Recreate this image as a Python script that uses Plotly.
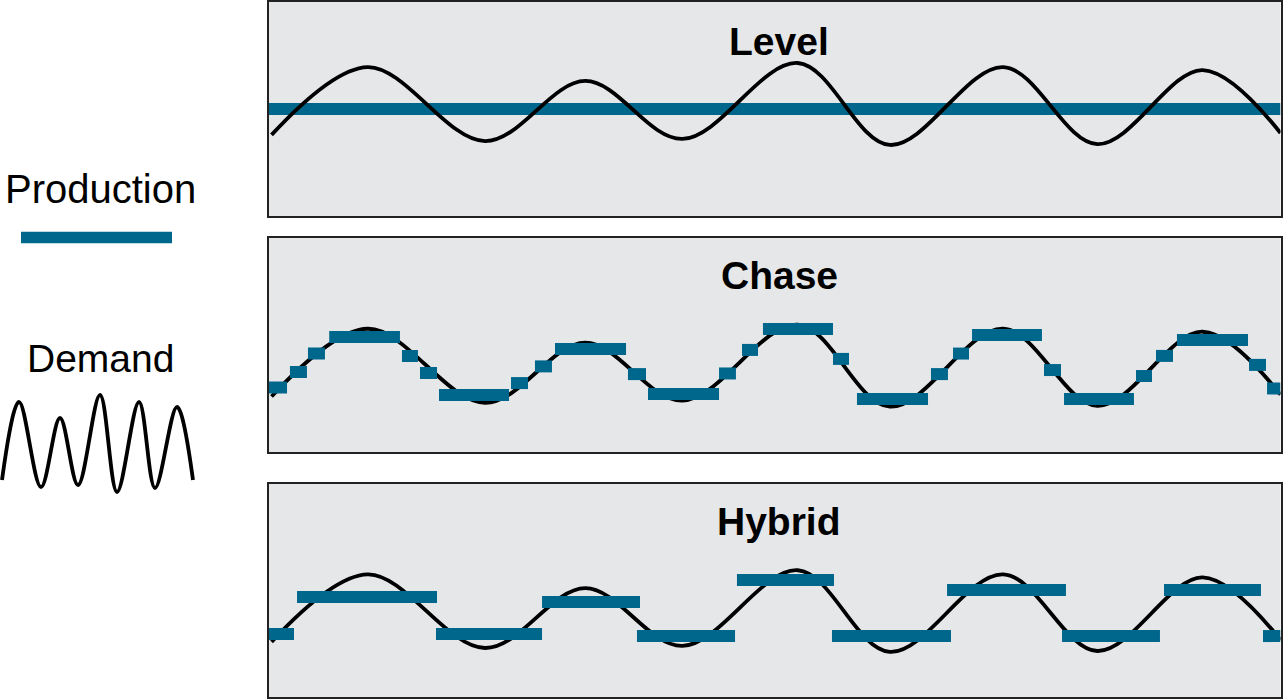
import plotly.graph_objects as go

# Demand over the planning horizon (period 0-100, demand in units):
# turning points of the seasonal demand pattern
period = [0.3, 9.8, 21.4, 31.3, 40.9, 52.3, 61.4, 72.6, 81.9, 92.3, 100.0]
demand = [37.9, 69.6, 35.0, 63.1, 36.0, 71.5, 33.2, 69.6, 33.6, 68.2, 38.8]

# Level strategy: constant output
level_output = 50.0

# Chase strategy: output changed period by period
chase_start = [0.0, 2.12, 3.90, 6.00, 13.19, 14.97, 16.85, 23.96, 26.33, 28.31,
               35.52, 37.50, 44.52, 46.79, 48.86, 55.78, 58.15, 65.46, 67.64,
               69.52, 76.63, 78.61, 85.72, 87.70, 89.77, 96.89, 98.67]
chase_end = [1.83, 3.80, 5.58, 12.99, 14.77, 16.65, 23.77, 25.64, 28.01, 35.33,
             37.30, 44.52, 46.19, 48.37, 55.78, 57.36, 65.17, 67.14, 69.22,
             76.43, 78.31, 85.52, 87.30, 89.38, 96.79, 98.57, 100.0]
chase_level = [42.1, 49.4, 58.0, 65.7, 56.9, 48.9, 38.6, 44.2, 52.0, 60.1,
               48.4, 39.1, 48.7, 59.7, 69.5, 55.5, 36.8, 48.4, 58.0, 66.7,
               50.3, 36.8, 47.5, 56.9, 64.3, 52.7, 41.7]

# Hybrid strategy: a few longer production blocks
hybrid_start = [0.0, 2.82, 16.55, 27.03, 36.41, 46.29, 55.68, 67.05, 78.41, 88.49, 98.27]
hybrid_end = [2.52, 16.65, 27.03, 36.71, 46.10, 55.88, 67.44, 78.80, 88.09, 98.07, 100.0]
hybrid_level = [41.6, 58.9, 41.6, 56.6, 40.6, 66.9, 40.6, 62.2, 40.6, 62.2, 40.6]

# Small demand glyph for the key
icon_x = [2, 19, 41, 60, 78, 100, 117, 139, 155, 177, 193]
icon_y = [20, 98, 13, 82, 15, 105, 8, 98, 12, 93, 20]

panel_titles = ["Level", "Chase", "Hybrid"]

BLUE = "#00678C"
PANEL_BG = "#E6E7E9"
FONT = "Liberation Sans, Arial, sans-serif"
DEMAND_W = 3.8


def segments(starts, ends, levels):
    xs, ys = [], []
    for s, e, v in zip(starts, ends, levels):
        xs += [s, e, None]
        ys += [v, v, None]
    return xs, ys


fig = go.Figure()

# Level panel
fig.add_trace(go.Scatter(x=[0, 100], y=[level_output, level_output], mode="lines",
                         line=dict(color=BLUE, width=12), xaxis="x", yaxis="y"))
fig.add_trace(go.Scatter(x=period, y=demand, mode="lines",
                         line=dict(color="black", width=DEMAND_W, shape="spline"),
                         xaxis="x", yaxis="y"))

# Chase panel
fig.add_trace(go.Scatter(x=period, y=demand, mode="lines",
                         line=dict(color="black", width=DEMAND_W, shape="spline"),
                         xaxis="x2", yaxis="y2"))
cx, cy = segments(chase_start, chase_end, chase_level)
fig.add_trace(go.Scatter(x=cx, y=cy, mode="lines", line=dict(color=BLUE, width=12),
                         xaxis="x2", yaxis="y2"))

# Hybrid panel
fig.add_trace(go.Scatter(x=period, y=demand, mode="lines",
                         line=dict(color="black", width=DEMAND_W, shape="spline"),
                         xaxis="x3", yaxis="y3"))
hx, hy = segments(hybrid_start, hybrid_end, hybrid_level)
fig.add_trace(go.Scatter(x=hx, y=hy, mode="lines", line=dict(color=BLUE, width=12),
                         xaxis="x3", yaxis="y3"))

# Key glyph
fig.add_trace(go.Scatter(x=icon_x, y=icon_y, mode="lines",
                         line=dict(color="black", width=DEMAND_W, shape="spline"),
                         xaxis="x4", yaxis="y4"))

W, H = 1283, 699
xdom = [268.5 / W, 1280.5 / W]
panel_px = [(2, 216), (238, 452), (484, 697)]
yranges = [[0, 100], [12, 112], [12, 112]]

frame = dict(showgrid=False, zeroline=False, showticklabels=False, ticks="",
             showline=True, linecolor="#222222", linewidth=1.5, mirror=True,
             fixedrange=True)

layout = dict(
    width=W, height=H, margin=dict(l=0, r=0, t=0, b=0),
    paper_bgcolor="white", plot_bgcolor="rgba(0,0,0,0)", showlegend=False,
    font=dict(family=FONT, color="black"),
)
shapes = []
for i, ((top, bot), yr) in enumerate(zip(panel_px, yranges)):
    sfx = "" if i == 0 else str(i + 1)
    layout["xaxis" + sfx] = dict(frame, domain=xdom, range=[0, 100],
                                 anchor="y" + sfx)
    layout["yaxis" + sfx] = dict(frame, domain=[1 - bot / H, 1 - top / H], range=yr,
                                 anchor="x" + sfx)
    # grey panel fill behind the traces
    shapes.append(dict(type="rect", xref=f"x{sfx} domain", yref=f"y{sfx} domain",
                       x0=0, x1=1, y0=0, y1=1, fillcolor=PANEL_BG,
                       line=dict(width=0), layer="below"))

hidden = dict(visible=False, fixedrange=True)
layout["xaxis4"] = dict(hidden, domain=[0, 195 / W], range=[0, 195], anchor="y4")
layout["yaxis4"] = dict(hidden, domain=[1 - 500 / H, 1 - 388 / H], range=[0, 112],
                        anchor="x4")

annotations = []
title_px = [41, 275.5, 521]
for t, py in zip(panel_titles, title_px):
    annotations.append(dict(text=f"<b>{t}</b>", x=779 / W, y=1 - py / H,
                            xref="paper", yref="paper", showarrow=False,
                            xanchor="center", yanchor="middle",
                            font=dict(size=39, family=FONT, color="black")))
annotations.append(dict(text="Production", x=100 / W, y=1 - 189 / H, xref="paper",
                        yref="paper", showarrow=False, xanchor="center",
                        yanchor="middle", font=dict(size=40, family=FONT)))
annotations.append(dict(text="Demand", x=100.5 / W, y=1 - 358.5 / H, xref="paper",
                        yref="paper", showarrow=False, xanchor="center",
                        yanchor="middle", font=dict(size=39, family=FONT)))
layout["annotations"] = annotations

# Key sample for production
shapes.append(dict(type="line", xref="paper", yref="paper",
                   x0=21 / W, x1=172 / W, y0=1 - 237.5 / H, y1=1 - 237.5 / H,
                   line=dict(color=BLUE, width=11.5)))
layout["shapes"] = shapes

fig.update_layout(**layout)
fig.write_html("out.html")
